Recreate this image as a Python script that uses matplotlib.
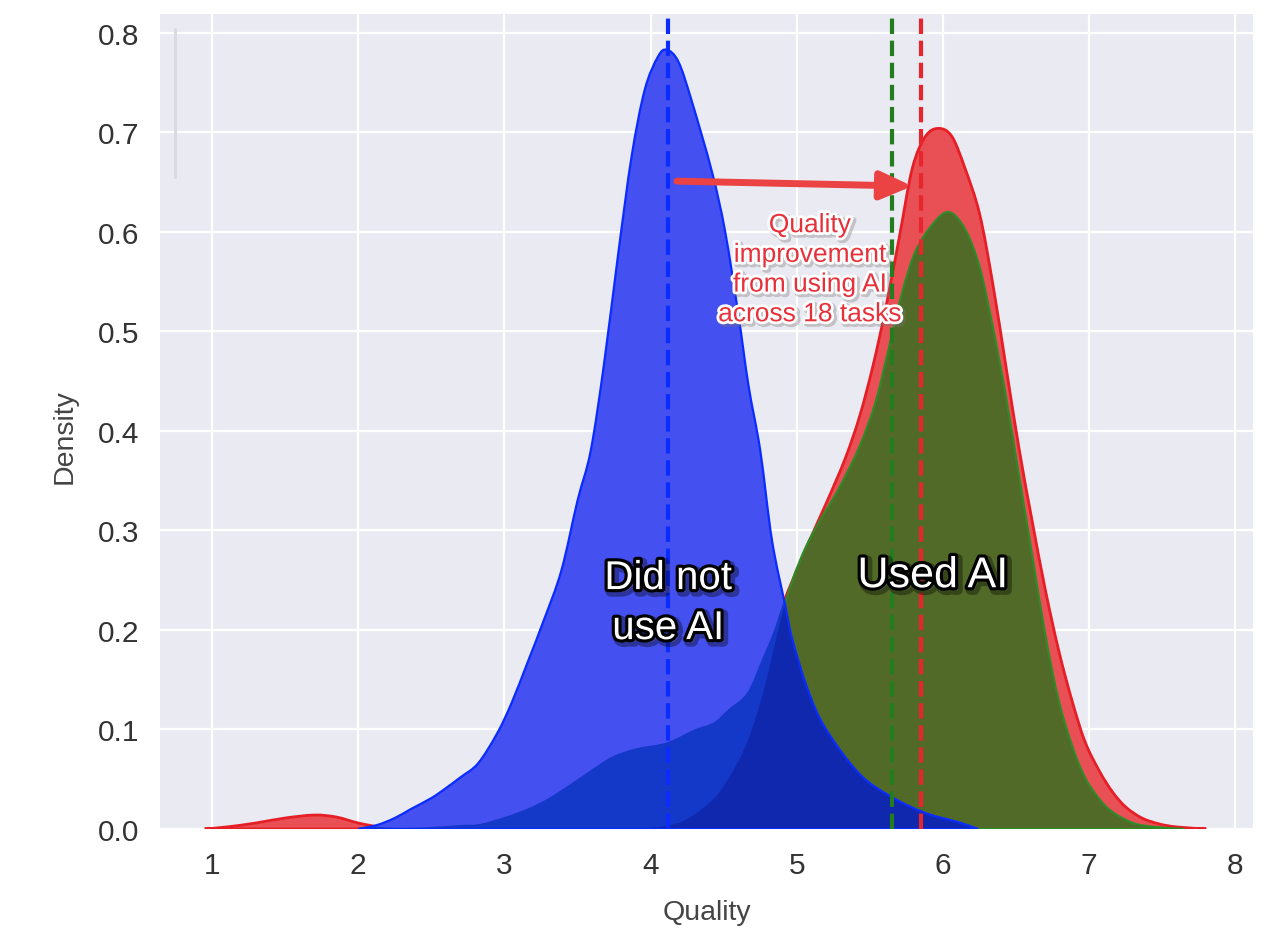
import matplotlib
matplotlib.use('Agg')
import matplotlib.pyplot as plt
import matplotlib.patheffects as pe
from matplotlib.patches import PathPatch
from matplotlib.path import Path
import numpy as np

plt.rcParams['font.family'] = ['Liberation Sans', 'DejaVu Sans']

# ---------------- data ----------------
# Did not use AI (blue)
blue_x = [2.0, 2.13, 2.25, 2.36, 2.5, 2.59, 2.7, 2.82, 2.95, 3.05, 3.16, 3.27, 3.39,
          3.5, 3.59, 3.68, 3.78, 3.87, 3.96, 4.05, 4.11, 4.19, 4.28, 4.42, 4.51,
          4.6, 4.67, 4.75, 4.83, 4.92, 4.97, 5.08, 5.2, 5.43, 5.65, 5.88, 6.1, 6.24]
blue_d = [0.0, 0.004, 0.011, 0.02, 0.031, 0.04, 0.052, 0.066, 0.096, 0.127, 0.168, 0.21, 0.26,
          0.33, 0.38, 0.466, 0.58, 0.676, 0.743, 0.776, 0.783, 0.771, 0.732, 0.66, 0.60,
          0.517, 0.445, 0.38, 0.29, 0.225, 0.19, 0.138, 0.10, 0.055, 0.032, 0.016, 0.007, 0.0]

# Used AI (red)
red_x = [0.95, 1.1, 1.3, 1.5, 1.7, 1.85, 2.0, 2.15, 2.3, 2.5, 2.7, 2.83, 3.0, 3.15, 3.29,
         3.45, 3.6, 3.74, 3.9, 4.11, 4.3, 4.43, 4.53, 4.66, 4.76, 4.84, 4.91, 5.06, 5.2,
         5.33, 5.43, 5.52, 5.61, 5.7, 5.79, 5.88, 5.97, 6.06, 6.15, 6.25, 6.34, 6.43,
         6.52, 6.61, 6.7, 6.79, 6.88, 6.97, 7.07, 7.16, 7.25, 7.36, 7.48, 7.6, 7.8]
red_d = [0.0, 0.002, 0.006, 0.011, 0.014, 0.012, 0.006, 0.002, 0.001, 0.002, 0.004, 0.005,
         0.012, 0.02, 0.03, 0.045, 0.06, 0.073, 0.081, 0.087, 0.10, 0.107, 0.12, 0.137,
         0.17, 0.198, 0.228, 0.281, 0.327, 0.372, 0.415, 0.465, 0.525, 0.594, 0.664, 0.696,
         0.704, 0.696, 0.664, 0.618, 0.548, 0.465, 0.382, 0.309, 0.24, 0.18, 0.13, 0.088,
         0.058, 0.037, 0.022, 0.011, 0.005, 0.002, 0.0]

# Used AI + overview (green)
green_x = [3.9, 4.1, 4.25, 4.43, 4.55, 4.66, 4.77, 4.89, 4.97, 5.06, 5.15, 5.29, 5.43,
           5.54, 5.63, 5.72, 5.81, 5.93, 6.04, 6.15, 6.25, 6.34, 6.43, 6.52, 6.61, 6.7,
           6.79, 6.88, 6.97, 7.07, 7.16, 7.3, 7.45, 7.65]
green_d = [0.0, 0.003, 0.01, 0.03, 0.055, 0.087, 0.137, 0.21, 0.25, 0.283, 0.308, 0.343,
           0.385, 0.43, 0.484, 0.539, 0.58, 0.608, 0.62, 0.603, 0.565, 0.505, 0.435, 0.355,
           0.275, 0.195, 0.13, 0.085, 0.052, 0.03, 0.017, 0.006, 0.002, 0.0]

medians = {'blue': 4.12, 'green': 5.65, 'red': 5.85}

x_ticks = [1, 2, 3, 4, 5, 6, 7, 8]
y_ticks = [0.0, 0.1, 0.2, 0.3, 0.4, 0.5, 0.6, 0.7, 0.8]


def smooth_area(xs, ds):
    """Closed area path through the read points, drawn with Catmull-Rom Bezier segments."""
    p = np.column_stack([xs, ds]).astype(float)
    n = len(p)
    verts = [(p[0, 0], 0.0), tuple(p[0])]
    codes = [Path.MOVETO, Path.LINETO]
    for i in range(n - 1):
        p0 = p[i - 1] if i > 0 else p[i]
        p1, p2 = p[i], p[i + 1]
        p3 = p[i + 2] if i + 2 < n else p[i + 1]
        c1 = p1 + (p2 - p0) / 6.0
        c2 = p2 - (p3 - p1) / 6.0
        c1[1] = max(c1[1], 0.0)
        c2[1] = max(c2[1], 0.0)
        verts += [tuple(c1), tuple(c2), tuple(p2)]
        codes += [Path.CURVE4] * 3
    verts += [(p[-1, 0], 0.0), (p[0, 0], 0.0), (p[0, 0], 0.0)]
    codes += [Path.LINETO, Path.LINETO, Path.CLOSEPOLY]
    return Path(verts, codes)


# ---------------- figure ----------------
fig = plt.figure(figsize=(12.85, 9.29), dpi=100)
ax = fig.add_axes([0.1245, 0.1066, 0.8506, 0.8773])
ax.set_facecolor('#EAEAF2')
for s in ax.spines.values():
    s.set_visible(False)
ax.set_axisbelow(True)
ax.grid(True, color='white', lw=1.6)

red_path = smooth_area(red_x, red_d)
green_path = smooth_area(green_x, green_d)
blue_path = smooth_area(blue_x, blue_d)

ax.add_patch(PathPatch(red_path, facecolor='#E85055', edgecolor='#E61E26', lw=2.0, zorder=2))
ax.add_patch(PathPatch(green_path, facecolor='#526A28', edgecolor='#2E8C28', lw=1.5, zorder=3))
blue_fill = PathPatch(blue_path, facecolor='#4450F0', edgecolor='none', zorder=4)
ax.add_patch(blue_fill)
ov_red = PathPatch(red_path, facecolor='#1438C8', edgecolor='none', zorder=4.2)
ax.add_patch(ov_red)
ov_red.set_clip_path(blue_fill)
ov_green = PathPatch(green_path, facecolor='#0F28AE', edgecolor='none', zorder=4.4)
ax.add_patch(ov_green)
ov_green.set_clip_path(blue_fill)
ax.add_patch(PathPatch(blue_path, facecolor='none', edgecolor='#0A2CFF', lw=1.6, zorder=4.6))

# median lines
ax.axvline(medians['blue'], color='#0A2CFF', ls='--', lw=3, zorder=5)
ax.axvline(medians['green'], color='#237D1E', ls='--', lw=3, zorder=5)
ax.axvline(medians['red'], color='#E6262C', ls='--', lw=3, zorder=5)

ax.set_xlim(0.644, 8.12)
ax.set_ylim(0, 0.819)
ax.set_xticks(x_ticks)
ax.set_yticks(y_ticks)
ax.set_yticklabels([f'{v:.1f}' for v in y_ticks])
ax.tick_params(axis='both', length=0, labelsize=21.5, colors='#333333')
ax.tick_params(axis='y', pad=15)
ax.tick_params(axis='x', pad=16)
ax.set_xlabel('Quality', fontsize=20.5, color='#444444', labelpad=14)
ax.set_ylabel('Density', fontsize=20.5, color='#444444')
ax.yaxis.set_label_coords(-0.075, 0.483)

# faint legend remnant
ax.plot([0.0137, 0.0137], [0.80, 0.982], transform=ax.transAxes, color='#DADAE2',
        lw=2.2, solid_capstyle='round', zorder=1)

# arrow
ann = ax.annotate('', xy=(5.79, 0.646), xytext=(4.18, 0.651),
                  arrowprops=dict(arrowstyle='-|>,head_length=0.95,head_width=0.42',
                                  color='#EB4343', lw=5, mutation_scale=20,
                                  shrinkA=0, shrinkB=0, capstyle='round'),
                  zorder=8)
ann.arrow_patch.set_path_effects([pe.SimplePatchShadow(offset=(1.5, -1.5), alpha=0.3),
                                  pe.Normal()])

ax.text(5.09, 0.562, 'Quality\nimprovement\nfrom using AI\nacross 18 tasks',
        ha='center', va='center', fontsize=19, color='#E8303A', linespacing=1.3,
        zorder=9,
        path_effects=[pe.Stroke(linewidth=5, foreground='#777777', alpha=0.35, offset=(1.5, -1.5)),
                      pe.Stroke(linewidth=4, foreground='white'), pe.Normal()])

white_fx = [pe.Stroke(linewidth=7, foreground='black', alpha=0.35, offset=(2, -2)),
            pe.Stroke(linewidth=4.5, foreground='black'), pe.Normal()]
ax.text(4.12, 0.227, 'Did not\nuse AI', ha='center', va='center', fontsize=29,
        color='white', linespacing=1.4, zorder=9, path_effects=white_fx)
ax.text(5.93, 0.254, 'Used AI', ha='center', va='center', fontsize=31,
        color='white', zorder=9, path_effects=white_fx)

fig.savefig('out.png', dpi=100)
